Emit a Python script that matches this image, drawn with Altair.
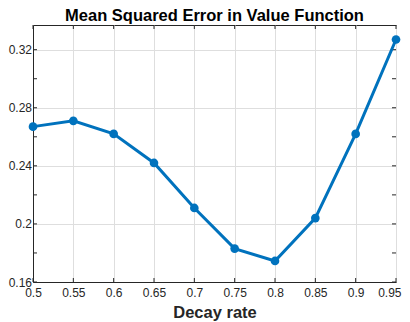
import altair as alt
import pandas as pd

decay = [0.5, 0.55, 0.6, 0.65, 0.7, 0.75, 0.8, 0.85, 0.9, 0.95]
mse = [0.267, 0.271, 0.262, 0.242, 0.211, 0.183, 0.1745, 0.204, 0.262, 0.327]
x_ticks = [0.5, 0.55, 0.6, 0.65, 0.7, 0.75, 0.8, 0.85, 0.9, 0.95]
y_ticks = [0.16, 0.18, 0.2, 0.22, 0.24, 0.26, 0.28, 0.3, 0.32]

W, H = 363, 257
AX = "#262626"
BLUE = "#0072BD"
GRID = "#dedede"
FONT = "Liberation Sans"

df = pd.DataFrame({"decay": decay, "mse": mse})
xt = pd.DataFrame({"x": x_ticks})
yt = pd.DataFrame({"y": y_ticks})

xscale = alt.Scale(domain=[0.5, 0.95], nice=False, zero=False)
yscale = alt.Scale(domain=[0.16, 0.337], nice=False, zero=False)

xaxis = alt.Axis(values=x_ticks, format=".2~f", title="Decay rate", grid=True,
                 gridColor=GRID, ticks=False, tickSize=0, labelPadding=5,
                 labelFont=FONT, labelFontSize=12, labelColor=AX, domainColor=AX,
                 labelFlush=False,
                 labelAlign={"condition": {"test": "datum.value >= 0.949", "value": "right"},
                             "value": "center"},
                 labelOffset={"condition": {"test": "datum.value >= 0.949", "value": 5},
                              "value": 0},
                 titleFont=FONT, titleFontSize=16.5, titleFontWeight="bold", titleColor=AX,
                 titleBaseline="alphabetic", titleY=35)
yaxis = alt.Axis(values=y_ticks, format=".2~f", title=None, grid=True,
                 gridColor=GRID, ticks=False, tickSize=0, labelPadding=1.5,
                 labelFont=FONT, labelFontSize=12, labelColor=AX, domainColor=AX,
                 labelFlush=False)

base = alt.Chart(df).encode(
    x=alt.X("decay:Q", scale=xscale, axis=xaxis),
    y=alt.Y("mse:Q", scale=yscale, axis=yaxis),
)
line = base.mark_line(color=BLUE, strokeWidth=3)
pts = base.mark_point(filled=True, shape="circle", size=75, color=BLUE, opacity=1)

tb = alt.Chart(xt).mark_rule(color=AX, strokeWidth=1).encode(
    x=alt.X("x:Q", scale=xscale), y=alt.value(H), y2=alt.value(H - 4))
tt = alt.Chart(xt).mark_rule(color=AX, strokeWidth=1).encode(
    x=alt.X("x:Q", scale=xscale), y=alt.value(0), y2=alt.value(4))
tl = alt.Chart(yt).mark_rule(color=AX, strokeWidth=1).encode(
    y=alt.Y("y:Q", scale=yscale), x=alt.value(0), x2=alt.value(4))
tr = alt.Chart(yt).mark_rule(color=AX, strokeWidth=1).encode(
    y=alt.Y("y:Q", scale=yscale), x=alt.value(W - 4), x2=alt.value(W))

chart = alt.layer(tb, tt, tl, tr, line, pts).properties(
    width=W, height=H,
    padding=0,
    title=alt.TitleParams(text="Mean Squared Error in Value Function", font=FONT,
                          fontSize=16.5, fontWeight="bold", color="black",
                          baseline="alphabetic", offset=-13, anchor="middle"),
).configure_view(stroke=AX, strokeWidth=1)

chart.save("out.html", embed_options={"renderer": "svg", "actions": False})
